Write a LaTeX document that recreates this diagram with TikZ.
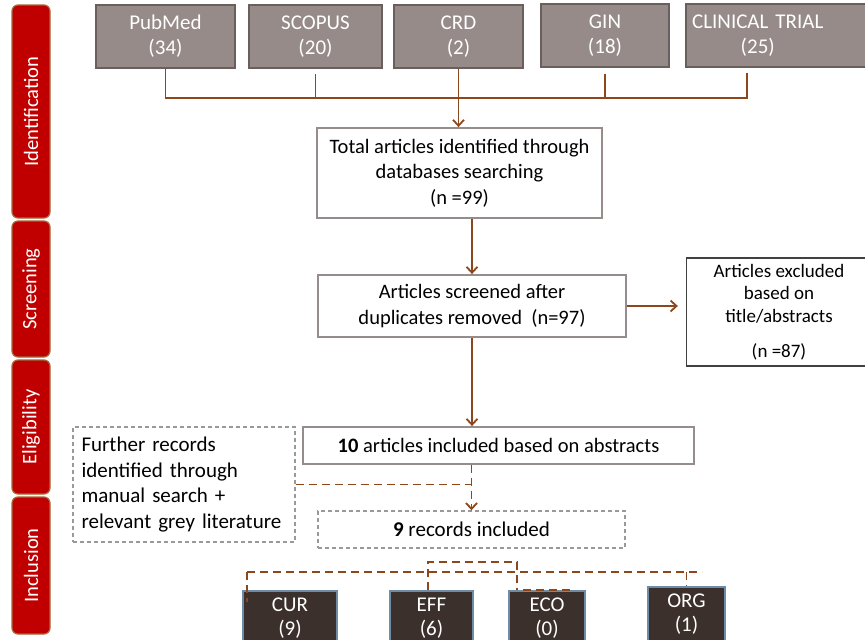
\documentclass[tikz,border=0pt]{standalone}
\usepackage{fontspec}
\setmainfont{Carlito}
\usetikzlibrary{arrows.meta, positioning, calc}
\definecolor{tabred}{RGB}{192, 0, 0}
\definecolor{tabedge}{RGB}{165, 105, 60}
\definecolor{dbgray}{RGB}{150, 139, 136}
\definecolor{dbedge}{RGB}{105, 96, 94}
\definecolor{flowbrown}{RGB}{140, 72, 28}
\definecolor{boxedge}{RGB}{150, 140, 140}
\definecolor{catfill}{RGB}{59, 48, 43}
\definecolor{catedge}{RGB}{110, 140, 165}

\begin{document}
\begin{tikzpicture}[
    x=1pt, y=-1pt,
    phasetab/.style={rectangle, rounded corners=6pt, draw=tabedge, line width=1.2pt, fill=tabred, text=white, rotate=90, minimum height=38pt, inner sep=0pt, font=\fontsize{20.5}{22}\selectfont},
    dbbox/.style={rectangle, draw=dbedge, line width=1.5pt, fill=dbgray, text=white, minimum height=63pt, align=center, font=\fontsize{21}{25}\selectfont},
    flowbox/.style={rectangle, draw=boxedge, line width=1.8pt, fill=white, align=center, font=\fontsize{20.5}{25.5}\selectfont},
    greybox/.style={rectangle, draw=gray!80, dashed, dash pattern=on 4pt off 3pt, line width=1.4pt, align=left, font=\fontsize{21}{25.7}\selectfont},
    catbox/.style={rectangle, draw=catedge, line width=1.8pt, fill=catfill, text=white, minimum height=54pt, align=center, font=\fontsize{21}{24}\selectfont},
    flow/.style={draw=flowbrown, line width=1.8pt},
    flowdash/.style={draw=flowbrown, line width=1.8pt, dash pattern=on 8pt off 5pt},
    tip/.style={-{Straight Barb[length=6pt, width=11pt]}}
]
\useasboundingbox[fill=white] (0,0) rectangle (865,640);

% phase tabs
\node[phasetab, minimum width=213pt] (identification) at (31,111.5) {Identification};
\node[phasetab, minimum width=136pt] (screening) at (31,289) {Screening};
\node[phasetab, minimum width=134pt] (eligibility) at (31,427) {Eligibility};
\node[phasetab, minimum width=137pt] (inclusion) at (31,565.5) {Inclusion};

% databases
\node[dbbox, minimum width=139pt] (pubmed) at (165.5,36.5) {PubMed\\(34)};
\node[dbbox, minimum width=133pt] (scopus) at (315.5,36.5) {SCOPUS\\(20)};
\node[dbbox, minimum width=129pt] (crd) at (458.5,36.5) {CRD\\(2)};
\node[dbbox, minimum width=128pt] (gin) at (605,35.5) {GIN\\(18)};
\node[dbbox, anchor=west, inner xsep=0pt, text width=185pt, align=left] (clin) at (685,35.5) {\makebox[144pt]{CLINICAL TRIAL}\\\makebox[144pt]{(25)}};

% flow boxes
\node[flowbox, minimum width=285pt, minimum height=90pt] (total) at (459.5,173) {Total articles identified through\\databases searching\\(n =99)};
\node[flowbox, minimum width=308pt, minimum height=62pt] (screened) at (472,306) {Articles screened after\\duplicates removed\ \ (n=97)};
\node[flowbox, draw=black!75, line width=1.3pt, minimum width=185pt, minimum height=108pt, font=\fontsize{19}{22.5}\selectfont] (excluded) at (779,312) {Articles excluded\\based on\\title/abstracts\\[13pt](n =87)};
\node[flowbox, minimum width=391pt, minimum height=37pt] (abstracts) at (498.5,445.5) {\textbf{10} articles included based on abstracts};
\node[greybox, minimum width=222pt, minimum height=115pt, text width=205pt] (further) at (184,484.5) {Further records\\identified through\\manual search +\\relevant grey literature};
\node[greybox, align=center, minimum width=307pt, minimum height=37pt] (included) at (471.5,529.5) {\textbf{9} records included};

% categories
\node[catbox, minimum width=94pt] (cur) at (290,618) {CUR\\(9)};
\node[catbox, minimum width=83pt] (eff) at (431.5,618) {EFF\\(6)};
\node[catbox, minimum width=76pt] (eco) at (547,618) {ECO\\(0)};
\node[catbox, minimum width=77pt] (org) at (686.5,614) {ORG\\(1)};

% database joins
\coordinate (dbjoin) at (165.5,98);
\coordinate (clinjoin) at (747,98);
\draw[flow] (pubmed.south) -- (dbjoin) -- (clinjoin) -- ++(0,-25);
\draw[flow] ($(scopus.south)+(0,5)$) -- (scopus.south |- dbjoin);
\draw[flow] ($(gin.south)+(0,6)$) -- (gin.south |- dbjoin);
\draw[flow, tip] (crd.south) -- (crd.south |- total.north);

% main flow
\draw[flow, tip] (total.south -| screened.north) -- (screened.north);
\draw[flow, tip] (screened.east) -- ($(screened.east -| excluded.west)+(-8,0)$);
\draw[flow, tip] (screened.south) -- (screened.south |- abstracts.north);
\draw[flowdash, tip] (abstracts.south -| included.north) -- (included.north);
\draw[flowdash] (further.east) -- (further.east -| included.north);

% category joins
\coordinate (catjoin) at (247,572);
\coordinate (catend) at (702,572);
\coordinate (effjoin) at (428,572);
\coordinate (ecojoin) at (517,572);
\draw[flowdash] (catjoin) -- (catend);
\draw[flowdash] (catjoin) -- ++(0,30);
\draw[flowdash] (effjoin |- eff.north) -- ($(effjoin)+(0,-10)$) -- ($(ecojoin)+(0,-10)$) -- (ecojoin |- eco.north);
\draw[flowdash] (org.north |- catjoin) -- (org.north);
\draw[flowdash] ($(eco.north west)+(15,0)$) -- ($(eco.north east)+(-12,0)$);

\end{tikzpicture}
\end{document}
